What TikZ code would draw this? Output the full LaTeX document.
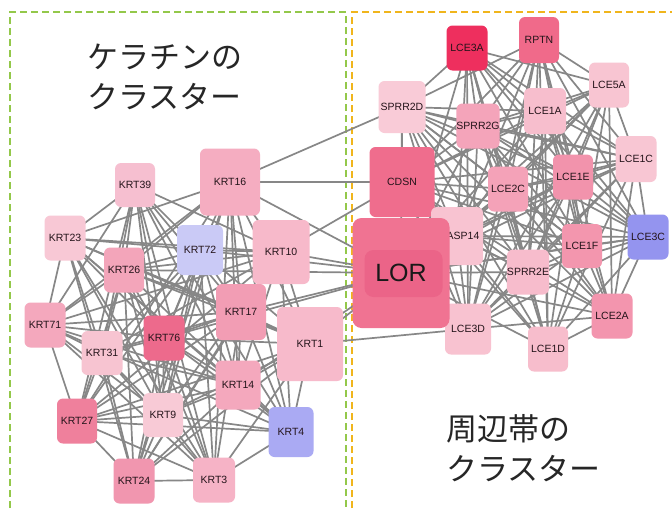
\documentclass[tikz,border=0pt]{standalone}
\usepackage{fontspec}
\setmainfont{Liberation Sans}
\newfontfamily\jpfont{Noto Sans CJK JP}
\usetikzlibrary{backgrounds}
\definecolor{edgec}{HTML}{878787}
\definecolor{lblc}{HTML}{24141A}
\definecolor{grn}{HTML}{93C84A}
\definecolor{org}{HTML}{F0B51C}
\definecolor{lorin}{HTML}{EB6488}
\definecolor{lorout}{HTML}{F07392}
\newcommand\gn[6]{\definecolor{c#1}{HTML}{#4}\node[gene,fill=c#1,minimum width=#5pt,minimum height=#6pt] (#1) at (#2) {#3};}
\begin{document}
\begin{tikzpicture}[x=1pt,y=-1pt,
  gene/.style={rounded corners=6pt, inner sep=0pt, text=lblc, font=\fontsize{10.5}{12}\selectfont},
  link/.style={draw=edgec, line width=1.7pt},
  clbox/.style={line width=1.6pt, dash pattern=on 7pt off 4pt},
  title/.style={anchor=north west, align=left, inner sep=0pt, text=black!85, font=\jpfont\fontsize{31}{40}\selectfont}]
\useasboundingbox (0,0) rectangle (672,509);
% ---------------- nodes: keratin cluster
\gn{KRT39}{135,185}{KRT39}{F6BFD0}{40}{44}
\gn{KRT16}{230,182}{KRT16}{F5ADC1}{60}{67}
\gn{KRT23}{65,238}{KRT23}{F8C8D5}{41}{45}
\gn{KRT72}{200,250}{KRT72}{CACAF6}{46}{50}
\gn{KRT10}{281,252}{KRT10}{F7B9CA}{57}{64}
\gn{KRT26}{124,270}{KRT26}{F3A5BA}{40}{45}
\gn{KRT17}{241,312}{KRT17}{F29DB4}{50}{56}
\gn{KRT71}{45,325}{KRT71}{F4A8BD}{41}{45}
\gn{KRT1}{310,344}{KRT1}{F7BACB}{66}{74}
\gn{KRT76}{164,338}{KRT76}{ED6A8C}{41}{45}
\gn{KRT31}{102,353}{KRT31}{F7C4D1}{41}{44}
\gn{KRT14}{238,385}{KRT14}{F4A8BD}{45}{49}
\gn{KRT27}{77,421}{KRT27}{EF809C}{40}{45}
\gn{KRT9}{163,415}{KRT9}{F8CAD6}{40}{44}
\gn{KRT4}{291,432}{KRT4}{AAAAF3}{45}{50}
\gn{KRT24}{134,481}{KRT24}{F196AF}{41}{45}
\gn{KRT3}{214,480}{KRT3}{F6B3C6}{42}{45}
% ---------------- nodes: cornified envelope cluster
\gn{LCE3A}{467,48}{LCE3A}{EE2F5E}{41}{45}
\gn{RPTN}{539,40}{RPTN}{F06A8A}{40}{46}
\gn{LCE5A}{609,85}{LCE5A}{F8C5D2}{40}{45}
\gn{SPRR2D}{402,107}{SPRR2D}{F9CBD7}{47}{52}
\gn{SPRR2G}{478,126}{SPRR2G}{F4A4BA}{40}{45}
\gn{LCE1A}{545,111}{LCE1A}{F7BECD}{42}{46}
\gn{LCE1C}{636,159}{LCE1C}{F8C6D3}{41}{46}
\gn{LCE1E}{573,177}{LCE1E}{F293AC}{40}{45}
\gn{CDSN}{402,182}{CDSN}{EF6D8D}{65}{70}
\gn{LCE2C}{508,189}{LCE2C}{F4A2B8}{40}{45}
\gn{LCE3C}{648,237}{LCE3C}{9494EF}{41}{45}
\gn{CASP14}{457,236}{\hspace*{12pt}ASP14}{F8C3D1}{52}{58}
\gn{LCE1F}{582,246}{LCE1F}{F396AE}{40}{44}
\gn{SPRR2E}{528,272}{SPRR2E}{F7BCCC}{40}{45}
\gn{LCE2A}{612,316}{LCE2A}{F395AE}{41}{45}
\gn{LCE3D}{468,329}{LCE3D}{F8C2D0}{46}{51}
\gn{LCE1D}{548,349}{LCE1D}{F7BDCC}{40}{45}
\node[gene, fill=lorout, minimum width=97pt, minimum height=110pt, rounded corners=9pt,
  font=\fontsize{25}{30}\selectfont, text=black!90,
  path picture={\fill[lorin] ([shift={(12,32)}]path picture bounding box.north west) rectangle ([shift={(90,79)}]path picture bounding box.north west);}]
  (LOR) at (401,273) {LOR};
% ---------------- titles
\node[title] (t1) at (87,44) {ケラチンの\\クラスター};
\node[title] (t2) at (446,414) {周辺帯の\\クラスター};
% ---------------- background: boxes and edges
\begin{scope}[on background layer]
\fill[white] (0,0) rectangle (672,509);
\draw[clbox, grn] (10,530) -- (10,12) -- (346,12) -- (346,530);
\draw[clbox, org] (352,530) -- (352,12) -- (680,12);
\foreach \a [count=\i] in {KRT39,KRT16,KRT23,KRT72,KRT10,KRT26,KRT17,KRT71,KRT1,KRT76,KRT31,KRT14,KRT27,KRT9,KRT4,KRT24,KRT3}{
  \foreach \b [count=\j] in {KRT39,KRT16,KRT23,KRT72,KRT10,KRT26,KRT17,KRT71,KRT1,KRT76,KRT31,KRT14,KRT27,KRT9,KRT4,KRT24,KRT3}{
    \ifnum\j>\i
      \pgfmathtruncatemacro\r{mod(\i*\j*7+\i+3*\j,7)}
      \ifnum\r>0 \draw[link] (\a.center) -- (\b.center); \fi
    \fi
  }
}
\foreach \a [count=\i] in {LCE3A,RPTN,LCE5A,SPRR2D,SPRR2G,LCE1A,LCE1C,LCE1E,CDSN,LCE2C,LCE3C,CASP14,LOR,LCE1F,SPRR2E,LCE2A,LCE3D,LCE1D}{
  \foreach \b [count=\j] in {LCE3A,RPTN,LCE5A,SPRR2D,SPRR2G,LCE1A,LCE1C,LCE1E,CDSN,LCE2C,LCE3C,CASP14,LOR,LCE1F,SPRR2E,LCE2A,LCE3D,LCE1D}{
    \ifnum\j>\i
      \pgfmathtruncatemacro\r{mod(\i*\j*5+2*\i+\j,7)}
      \ifnum\r>0 \draw[link] (\a.center) -- (\b.center); \fi
    \fi
  }
}
\foreach \a/\b in {KRT16/SPRR2D,KRT16/CDSN,KRT16/LOR,KRT10/CDSN,KRT10/LOR,KRT17/LOR,KRT1/LOR,KRT1/LCE3D,KRT14/LOR,KRT72/LOR,KRT26/LOR,KRT76/LOR}{
  \draw[link] (\a.center) -- (\b.center);
}
\end{scope}
\end{tikzpicture}
\end{document}
